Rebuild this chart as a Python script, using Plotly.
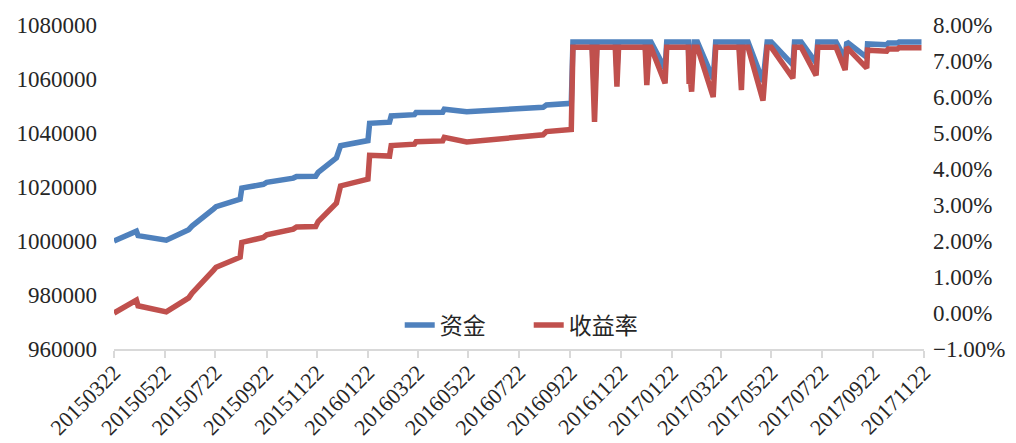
import plotly.graph_objects as go

# sample dates (irregular)
dates: list[str] = [
    "2015-03-22", "2015-04-18", "2015-04-20", "2015-05-24", "2015-06-20",
    "2015-06-24", "2015-07-20", "2015-07-23", "2015-08-21", "2015-08-23",
    "2015-09-18", "2015-09-22", "2015-10-24", "2015-10-28", "2015-11-20",
    "2015-11-23", "2015-12-15", "2015-12-20", "2016-01-22", "2016-01-24",
    "2016-02-17", "2016-02-19", "2016-03-18", "2016-03-20", "2016-04-21",
    "2016-04-23", "2016-05-20", "2016-08-20", "2016-08-24", "2016-09-23",
    "2016-09-25", "2016-10-18", "2016-10-21", "2016-10-24", "2016-11-15",
    "2016-11-17", "2016-11-19", "2016-12-21", "2016-12-23", "2016-12-26",
    "2016-12-28", "2017-01-14", "2017-01-16", "2017-02-11", "2017-02-12",
    "2017-02-13", "2017-02-15", "2017-02-18", "2017-02-22", "2017-03-13",
    "2017-03-16", "2017-04-13", "2017-04-16", "2017-04-18", "2017-04-24",
    "2017-05-12", "2017-05-17", "2017-05-22", "2017-06-17", "2017-06-19",
    "2017-06-27", "2017-07-15", "2017-07-17", "2017-08-08", "2017-08-19",
    "2017-08-21", "2017-09-14", "2017-09-15", "2017-10-08", "2017-10-10",
    "2017-10-21", "2017-10-23", "2017-11-19",
]

capital: list[float] = [
    1000000, 1003600, 1002000, 1000300, 1004200,
    1005500, 1011900, 1012700, 1015500, 1019600,
    1021000, 1021700, 1023300, 1023900, 1024000,
    1025400, 1030800, 1035300, 1037200, 1043600,
    1044000, 1046300, 1046800, 1047600, 1047700,
    1048800, 1047900, 1049500, 1050400, 1051000,
    1073700, 1073700, 1053100, 1073700, 1073700,
    1062900, 1073700, 1073700, 1063300, 1073700,
    1073700, 1063800, 1073700, 1073700, 1063600,
    1066000, 1061500, 1073700, 1073700, 1060000,
    1073700, 1073700, 1061900, 1073700, 1073700,
    1059000, 1073700, 1073700, 1065200, 1073700,
    1073700, 1066000, 1073700, 1073700, 1067500,
    1073700, 1068000, 1073000, 1072700, 1073300,
    1073300, 1073700, 1073700,
]

returns: list[float] = [
    0.0000, 0.0036, 0.0020, 0.0003, 0.0042,
    0.0055, 0.0119, 0.0127, 0.0155, 0.0196,
    0.0210, 0.0217, 0.0233, 0.0239, 0.0240,
    0.0254, 0.0305, 0.0353, 0.0372, 0.0438,
    0.0436, 0.0465, 0.0469, 0.0476, 0.0478,
    0.0488, 0.0475, 0.0495, 0.0504, 0.0510,
    0.0738, 0.0738, 0.0531, 0.0738, 0.0738,
    0.0629, 0.0738, 0.0738, 0.0633, 0.0738,
    0.0738, 0.0638, 0.0738, 0.0738, 0.0636,
    0.0660, 0.0615, 0.0738, 0.0738, 0.0600,
    0.0738, 0.0738, 0.0619, 0.0738, 0.0738,
    0.0590, 0.0738, 0.0738, 0.0652, 0.0738,
    0.0738, 0.0660, 0.0738, 0.0738, 0.0675,
    0.0738, 0.0680, 0.0730, 0.0727, 0.0733,
    0.0733, 0.0737, 0.0737,
]

tick_labels: list[str] = [
    "20150322", "20150522", "20150722", "20150922", "20151122", "20160122",
    "20160322", "20160522", "20160722", "20160922", "20161122", "20170122",
    "20170322", "20170522", "20170722", "20170922", "20171122",
]
tick_dates: list[str] = [f"{t[:4]}-{t[4:6]}-{t[6:]}" for t in tick_labels]

FONT: str = "Liberation Serif, Noto Sans CJK SC, serif"
TEXT_COLOR: str = "#262626"
AXIS_COLOR: str = "#D9D9D9"

fig: go.Figure = go.Figure()
fig.add_trace(
    go.Scatter(
        name="资金",
        x=dates,
        y=capital,
        yaxis="y",
        mode="lines",
        line={"color": "#4F81BD", "width": 5.5},
    )
)
fig.add_trace(
    go.Scatter(
        name="收益率",
        x=dates,
        y=returns,
        yaxis="y2",
        mode="lines",
        line={"color": "#C0504D", "width": 5.5},
    )
)

# the page body has an 8px margin, so the figure is sized/offset to match
fig.update_layout(
    {
        "width": 1008,
        "height": 435,
        "margin": {"l": 106, "r": 92, "t": 17, "b": 94, "autoexpand": False},
        "paper_bgcolor": "white",
        "plot_bgcolor": "white",
        "font": {"family": FONT, "size": 23, "color": TEXT_COLOR},
        "showlegend": True,
        "legend": {
            "orientation": "h",
            "x": 0.512,
            "xanchor": "center",
            "y": 0.074,
            "yanchor": "middle",
            "bgcolor": "rgba(0,0,0,0)",
            "font": {"size": 23},
            "entrywidth": 84,
            "itemwidth": 30,
        },
        "xaxis": {
            "type": "date",
            "automargin": False,
            "range": ["2015-03-22", "2017-11-22"],
            "tickvals": tick_dates,
            "ticktext": tick_labels,
            "tickangle": -45,
            "tickfont": {"size": 22},
            "ticklabelstandoff": -7,
            "showgrid": False,
            "zeroline": False,
            "showline": True,
            "linecolor": AXIS_COLOR,
            "linewidth": 2,
            "ticks": "outside",
            "ticklen": 7,
            "tickwidth": 2,
            "tickcolor": AXIS_COLOR,
        },
        "yaxis": {
            "automargin": False,
            "range": [960000, 1080000],
            "dtick": 20000,
            "tickformat": "d",
            "showgrid": False,
            "zeroline": False,
            "showline": False,
            "ticklabelstandoff": 16,
        },
        "yaxis2": {
            "automargin": False,
            "range": [-0.01, 0.08],
            "dtick": 0.01,
            "tickformat": ".2%",
            "side": "right",
            "overlaying": "y",
            "showgrid": False,
            "zeroline": False,
            "showline": False,
            "ticklabelstandoff": 8,
        },
    }
)

fig.write_html("out.html")
